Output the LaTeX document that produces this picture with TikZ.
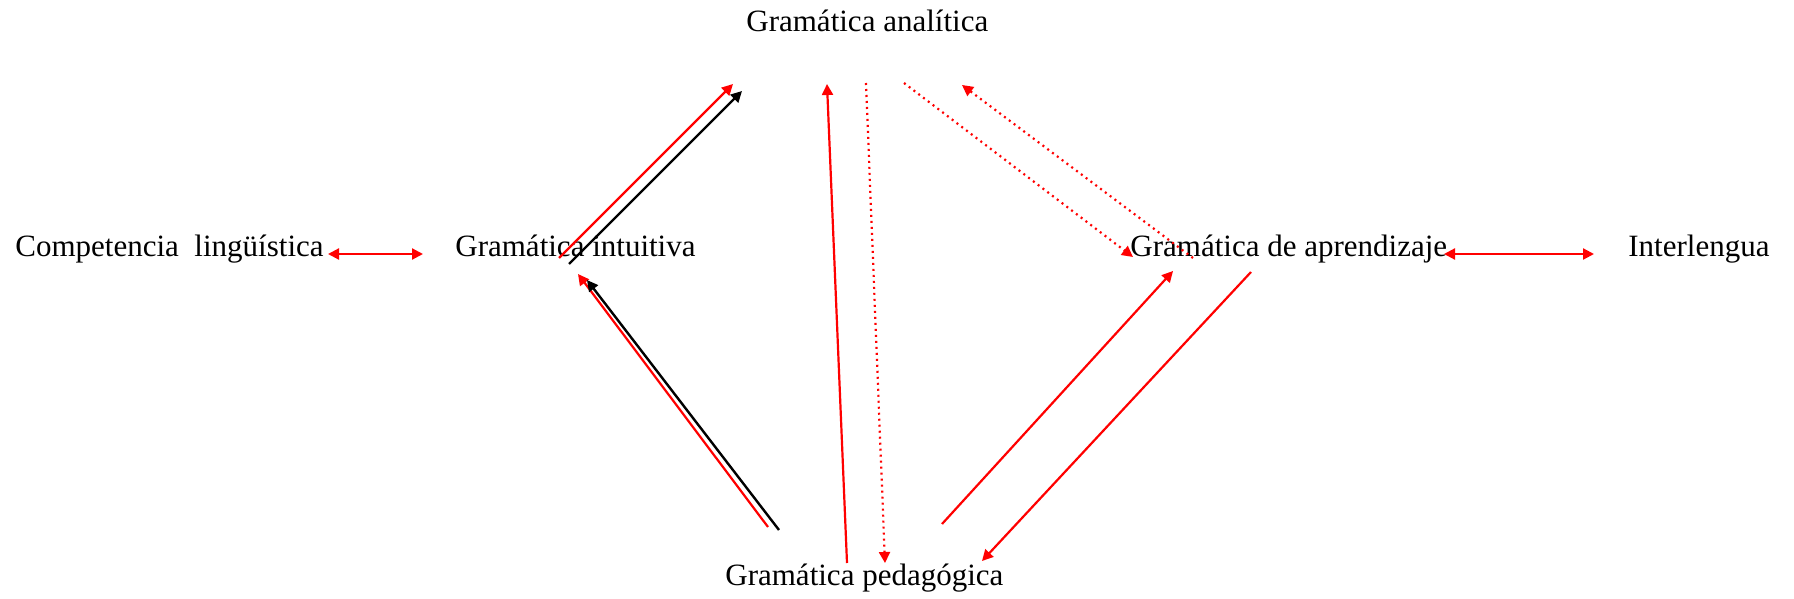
\documentclass[tikz,border=0pt]{standalone}
\usepackage{fontspec}
\setmainfont{Liberation Serif}
\usetikzlibrary{arrows.meta}
\begin{document}
\begin{tikzpicture}[x=0.5pt,y=-0.5pt,
  lbl/.style={anchor=base west,inner sep=0pt,font=\fontsize{15.5pt}{18pt}\selectfont},
  redarr/.style={draw=red,line width=1.1pt,-{Triangle[length=5.5pt,width=5.5pt]},red},
  blkarr/.style={draw=black,line width=1.2pt,-{Triangle[length=5.5pt,width=5.5pt]}},
  dotarr/.style={redarr,dash pattern=on 1pt off 2pt},
  dbl/.style={draw=red,line width=1.1pt,{Triangle[length=5.5pt,width=5.5pt]}-{Triangle[length=5.5pt,width=5.5pt]},red}]
\useasboundingbox (0,0) rectangle (1794,599);
\fill[white] (0,0) rectangle (1794,599);
% texts
\node[lbl] (ana) at (746,32) {Gramática analítica};
\node[lbl] (comp) at (15,256) {Competencia\ \ lingüística};
\node[lbl] (intu) at (455,256) {Gramática intuitiva};
\node[lbl] (apr) at (1130,256) {Gramática de aprendizaje};
\node[lbl] (inter) at (1628,256) {Interlengua};
\node[lbl] (ped) at (725,585) {Gramática pedagógica};
% endpoints
\coordinate (c1a) at (328,254); \coordinate (c1b) at (423,254);
\coordinate (c2a) at (1444,254); \coordinate (c2b) at (1594,254);
\coordinate (r3a) at (559,258); \coordinate (r3b) at (733,84);
\coordinate (b4a) at (569,264); \coordinate (b4b) at (742,91);
\coordinate (r5a) at (768,527); \coordinate (r5b) at (578,274);
\coordinate (b6a) at (779,530); \coordinate (b6b) at (587,280);
\coordinate (r7a) at (847,563); \coordinate (r7b) at (827,84);
\coordinate (d8a) at (866,83); \coordinate (d8b) at (885,563);
\coordinate (d9a) at (904,83); \coordinate (d9b) at (1133,257);
\coordinate (d10a) at (1193,258); \coordinate (d10b) at (962,85);
\coordinate (r11a) at (942,524); \coordinate (r11b) at (1173,271);
\coordinate (r12a) at (1251,272); \coordinate (r12b) at (982,561);
% connectors
\draw[dbl] (c1a) -- (c1b);
\draw[dbl] (c2a) -- (c2b);
\draw[redarr] (r3a) -- (r3b);
\draw[blkarr] (b4a) -- (b4b);
\draw[redarr] (r5a) -- (r5b);
\draw[blkarr] (b6a) -- (b6b);
\draw[redarr] (r7a) -- (r7b);
\draw[dotarr] (d8a) -- (d8b);
\draw[dotarr] (d9a) -- (d9b);
\draw[dotarr] (d10a) -- (d10b);
\draw[redarr] (r11a) -- (r11b);
\draw[redarr] (r12a) -- (r12b);
\end{tikzpicture}
\end{document}
